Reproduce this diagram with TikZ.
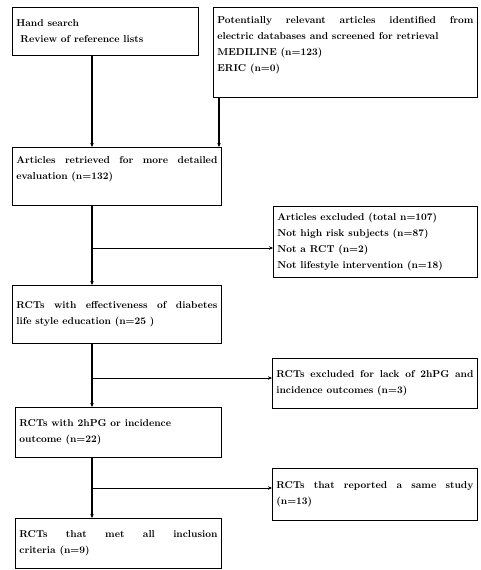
\documentclass[tikz,border=0pt]{standalone}
\usetikzlibrary{arrows.meta}
\begin{document}
\begin{tikzpicture}[x=1pt, y=-1pt,
	box/.style={draw, line width=0.8pt, anchor=north west, align=justify,
		inner xsep=4pt, inner ysep=3pt, font=\fontsize{10}{16}\selectfont\bfseries},
	flow/.style={line width=1.2pt, -{Stealth[length=4pt,width=3.5pt]}},
	branch/.style={line width=0.6pt, -{Stealth[length=4pt,width=3.5pt]}}]
	% page 480 x 570, 1pt per pixel, y downwards
	\useasboundingbox (0,0) rectangle (480,570);
	\coordinate (trunk) at (92,0);
	\coordinate (side) at (219,0);
	% sources
	\node[box, text width=178pt, minimum height=48pt] (hand) at (12,7)
		{Hand search\\\hspace*{4pt}Review of reference lists};
	\node[box, text width=256pt, minimum height=90pt] (pot) at (213,7)
		{Potentially relevant articles identified from\linebreak
		electric databases and screened for retrieval\\
		MEDILINE (n=123)\\
		ERIC (n=0)\\\mbox{}};
	% left column
	\node[box, text width=201pt, minimum height=58pt] (art) at (12,147)
		{Articles retrieved for more detailed\linebreak evaluation (n=132)\\\mbox{}};
	\node[box, text width=201pt, minimum height=58pt] (eff) at (12,285)
		{RCTs with effectiveness of diabetes\linebreak life style education (n=25 )};
	\node[box, text width=198pt, minimum height=50pt] (hpg) at (15,407)
		{RCTs with 2hPG or incidence\\outcome (n=22)};
	\node[box, text width=198pt, minimum height=50pt] (fin) at (15,518)
		{RCTs that met all inclusion\linebreak criteria (n=9)};
	% right column
	\node[box, text width=196pt, minimum height=71pt] (exc1) at (273,206)
		{Articles excluded (total n=107)\\
		Not high risk subjects (n=87)\\
		Not a RCT (n=2)\\
		Not lifestyle intervention (n=18)};
	\node[box, text width=197pt, minimum height=50pt] (exc2) at (272,358)
		{RCTs excluded for lack of 2hPG and\linebreak incidence outcomes (n=3)};
	\node[box, text width=197pt, minimum height=52pt] (rep) at (272,468)
		{RCTs that reported a same study\linebreak (n=13)};
	% arrows
	\draw[flow] (hand.south -| trunk) -- (art.north -| trunk);
	\draw[flow] (pot.south -| side) -- (art.north -| side);
	\draw[flow] (art.south -| trunk) -- (eff.north -| trunk);
	\draw[flow] (eff.south -| trunk) -- (hpg.north -| trunk);
	\draw[flow] (hpg.south -| trunk) -- (fin.north -| trunk);
	\coordinate (b1) at (92,248);
	\coordinate (b2) at (92,378);
	\coordinate (b3) at (92,488);
	\draw[branch] (b1) -- (b1 -| exc1.west);
	\draw[branch] (b2) -- (b2 -| exc2.west);
	\draw[branch] (b3) -- (b3 -| rep.west);
\end{tikzpicture}
\end{document}
